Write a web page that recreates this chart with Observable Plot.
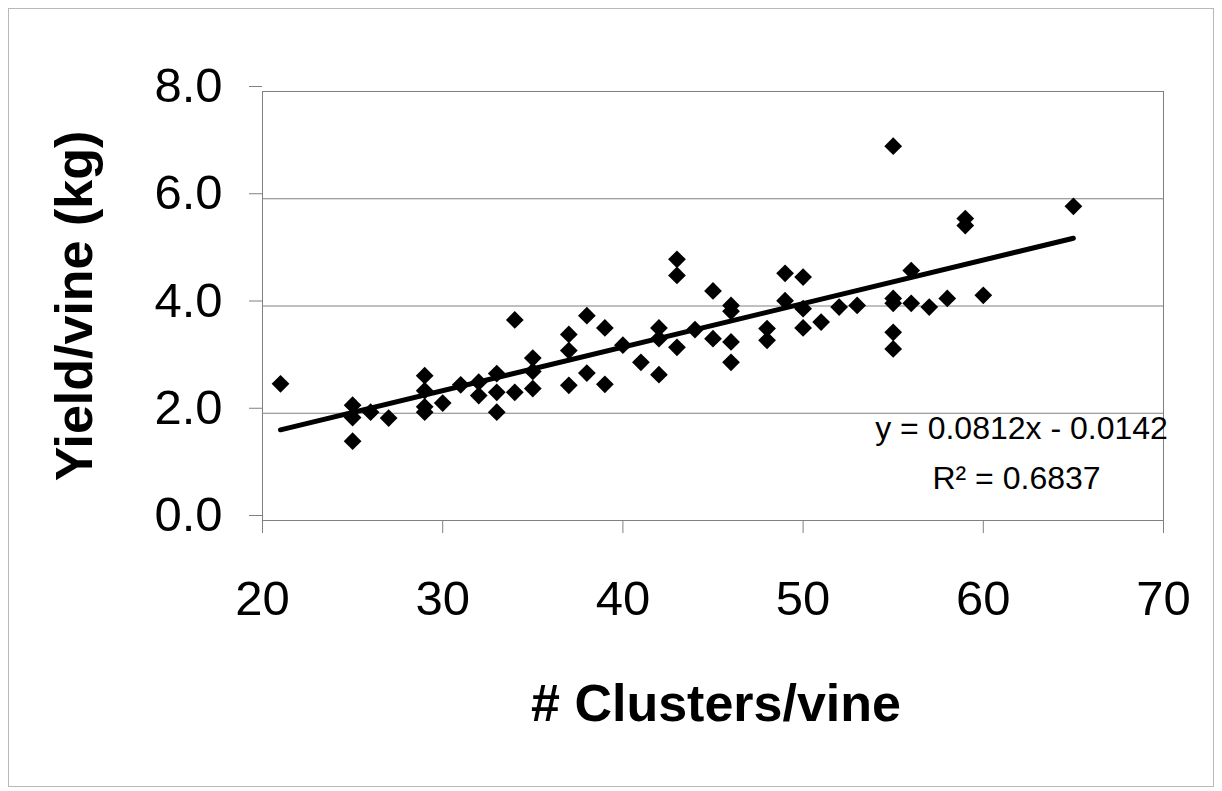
<!DOCTYPE html>
<html><head><meta charset="utf-8">
<script src="https://cdn.jsdelivr.net/npm/d3@7"></script>
<script src="https://cdn.jsdelivr.net/npm/@observablehq/plot@0.6"></script>
<style>
html,body{margin:0;padding:0;background:#fff;overflow:hidden}
#wrap{position:relative;width:1222px;height:791px}
#border{position:absolute;left:8px;top:8px;width:1206px;height:779px;border:1px solid #b8b8b8;pointer-events:none;box-sizing:border-box}
#wrap svg{position:absolute;left:0;top:0}
</style></head><body><div id="wrap"><div id="border"></div></div>
<script>
const clusters = [21,
  25, 25, 25,
  26, 27,
  29, 29, 29, 29,
  30, 31, 32, 32,
  33, 33, 33,
  34, 34,
  35, 35, 35,
  37, 37, 37,
  38, 38, 39, 39, 40, 41,
  42, 42, 42,
  43, 43, 43,
  44, 45, 45,
  46, 46, 46, 46,
  48, 48, 49, 49,
  50, 50, 50,
  51, 52, 53,
  55, 55, 55, 55, 55,
  56, 56, 57, 58, 59, 59, 60, 65];
const yields = [2.55,
  2.15, 1.92, 1.48,
  2.02, 1.91,
  2.70, 2.42, 2.12, 2.02,
  2.19, 2.53, 2.58, 2.33,
  2.74, 2.39, 2.02,
  3.74, 2.39,
  3.03, 2.78, 2.46,
  3.47, 3.17, 2.52,
  3.82, 2.75, 3.59, 2.54, 3.27, 2.95,
  3.59, 3.39, 2.72,
  4.87, 4.57, 3.23,
  3.56, 4.28, 3.39,
  4.01, 3.90, 3.33, 2.95,
  3.58, 3.36, 4.61, 4.10,
  4.54, 3.95, 3.59,
  3.70, 3.98, 4.01,
  6.98, 4.14, 4.05, 3.51, 3.20,
  4.66, 4.05, 3.98, 4.14, 5.63, 5.50, 4.20, 5.86];
const xTicks = [20, 30, 40, 50, 60, 70];
const yTicks = [0, 2, 4, 6, 8];
const slope = 0.0812;
const intercept = -0.0142;
const rSquared = 0.6837;
const xTitle = "# Clusters/vine";
const yTitle = "Yield/vine (kg)";

const points = clusters.map((c, i) => ({c, y: yields[i]}));
const trend = d3.extent(clusters).map(c => ({c, y: slope * c + intercept}));
const eqText = `y = ${slope}x - ${Math.abs(intercept)}`;
const r2Text = `R² = ${rSquared}`;
const font = '"Liberation Sans", Arial, Helvetica, sans-serif';

const chart = Plot.plot({
  width: 1222, height: 791,
  marginLeft: 262, marginRight: 59, marginTop: 91, marginBottom: 271,
  style: {fontFamily: font, background: "transparent", color: "#000", overflow: "visible"},
  x: {domain: [20, 70]},
  y: {domain: [0, 8]},
  marks: [
    Plot.gridY(yTicks, {stroke: "#808080", strokeOpacity: 1, strokeWidth: 1}),
    Plot.frame({stroke: "#808080", strokeWidth: 1}),
    Plot.axisY(yTicks, {tickFormat: d => d.toFixed(1), tickSize: 13, tickPadding: 27, fontSize: 49, label: null, stroke: "#808080", dy: -5}),
    Plot.axisX(xTicks, {tickFormat: d => String(d), tickSize: 13, tickPadding: 47, fontSize: 49, label: null, stroke: "#808080"}),
    Plot.line(trend, {x: "c", y: "y", stroke: "#000", strokeWidth: 5}),
    Plot.dot(points, {x: "c", y: "y", symbol: "diamond2", r: 8, fill: "#000", stroke: "none"}),
    Plot.text([eqText], {text: d => d, frameAnchor: "bottom-right", dx: -142, dy: -82, fontSize: 32, textAnchor: "middle"}),
    Plot.text([r2Text], {text: d => d, frameAnchor: "bottom-right", dx: -147, dy: -32, fontSize: 32, textAnchor: "middle"}),
    Plot.text([xTitle], {text: d => d, frameAnchor: "bottom", dx: 3, dy: 200, fontSize: 52, fontWeight: "bold"}),
    Plot.text([yTitle], {text: d => d, frameAnchor: "left", rotate: -90, dx: -187, textAnchor: "middle", fontSize: 52, fontWeight: "bold"})
  ]
});
document.getElementById("wrap").appendChild(chart);
</script>
</body></html>
